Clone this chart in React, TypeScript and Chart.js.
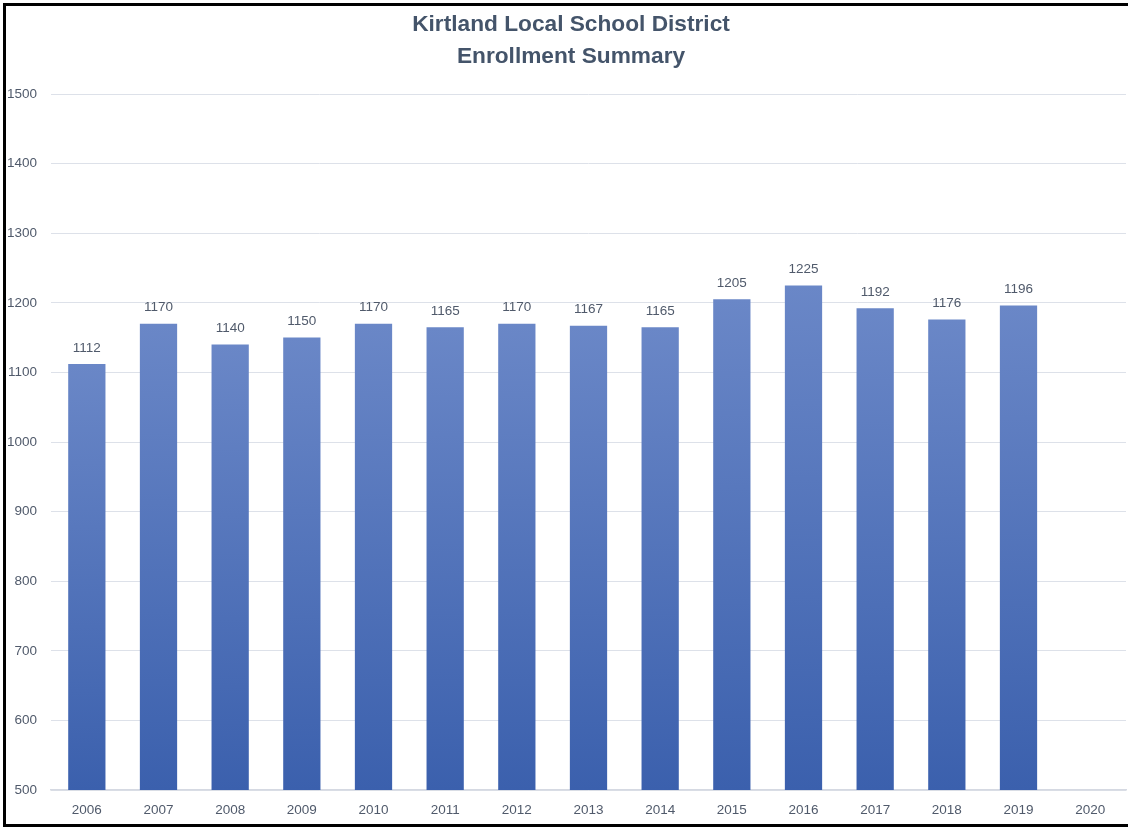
import React, { useEffect, useRef } from "react";
import { Chart, registerables } from "chart.js";

Chart.register(...registerables);

const years = ["2006","2007","2008","2009","2010","2011","2012","2013","2014","2015","2016","2017","2018","2019","2020"];
const enrollment: (number | null)[] = [1112,1170,1140,1150,1170,1165,1170,1167,1165,1205,1225,1192,1176,1196,null];
const titleLines = ["Kirtland Local School District", "Enrollment Summary"];
const yMin = 500;
const yMax = 1500;
const yStep = 100;

const TEXT = "#505a6b";
const FONT = "'Liberation Sans', Arial, sans-serif";

const framePlugin = {
  id: "frame",
  afterDraw(chart: any) {
    const ctx = chart.ctx;
    ctx.save();
    ctx.strokeStyle = "#000";
    ctx.lineWidth = 3;
    ctx.strokeRect(4.5, 4.5, chart.width + 10, chart.height - 6);
    ctx.fillStyle = "#44546a";
    ctx.font = `bold 22.7px ${FONT}`;
    ctx.textAlign = "center";
    ctx.textBaseline = "middle";
    const cx = 571;
    titleLines.forEach((t, i) => ctx.fillText(t, cx, 25 + i * 32));
    ctx.restore();
  },
};

const labelPlugin = {
  id: "valueLabels",
  afterDatasetsDraw(chart: any) {
    const ctx = chart.ctx;
    const meta = chart.getDatasetMeta(0);
    ctx.save();
    ctx.font = `13.5px ${FONT}`;
    ctx.fillStyle = TEXT;
    ctx.textAlign = "center";
    ctx.textBaseline = "middle";
    meta.data.forEach((bar: any, i: number) => {
      const v = enrollment[i];
      if (v == null) return;
      ctx.fillText(String(v), bar.x, bar.y - 16);
    });
    ctx.restore();
  },
};

export default function App() {
  const ref = useRef<HTMLCanvasElement>(null);
  useEffect(() => {
    document.body.style.margin = "0";
    if (!ref.current) return;
    const chart = new Chart(ref.current, {
      type: "bar",
      data: {
        labels: years,
        datasets: [
          {
            data: enrollment,
            backgroundColor: (c: any) => {
              const ch = c.chart;
              const ys = ch.scales?.y;
              if (!ys || c.raw == null) return "#4f72ba";
              const top = ys.getPixelForValue(c.raw);
              const bottom = ys.getPixelForValue(yMin);
              if (!isFinite(top) || !isFinite(bottom) || top === bottom) return "#4f72ba";
              const g = ch.ctx.createLinearGradient(0, top, 0, bottom);
              g.addColorStop(0, "#6a87c7");
              g.addColorStop(1, "#3b60ad");
              return g;
            },
            barPercentage: 0.52,
            categoryPercentage: 1,
          },
        ],
      },
      options: {
        animation: false,
        responsive: false,
        maintainAspectRatio: false,
        layout: { padding: { left: 0, right: 2, top: 94, bottom: 7 } },
        plugins: {
          legend: { display: false },
          tooltip: { enabled: false },
          title: { display: false },
        },
        scales: {
          x: {
            grid: { display: false, drawTicks: false },
            border: { color: "#d5d9e2", width: 1.5 },
            ticks: { color: TEXT, font: { family: FONT, size: 13.5 }, padding: 12 },
            afterFit: (s: any) => { s.height = 30; },
          },
          y: {
            min: yMin,
            max: yMax,
            grid: { color: "#dde1e9", drawTicks: false },
            border: { display: false },
            ticks: {
              stepSize: yStep,
              color: TEXT,
              font: { family: FONT, size: 13.5 },
              padding: 14,
              callback: (v: any) => String(v),
            },
            afterFit: (s: any) => { s.width = 51; },
          },
        },
      },
      plugins: [labelPlugin, framePlugin],
    });
    return () => chart.destroy();
  }, []);
  return (
    <div style={{ width: 1128, height: 827 }}>
      <canvas ref={ref} width={1128} height={827} style={{ display: "block", width: 1128, height: 827 }} />
    </div>
  );
}
